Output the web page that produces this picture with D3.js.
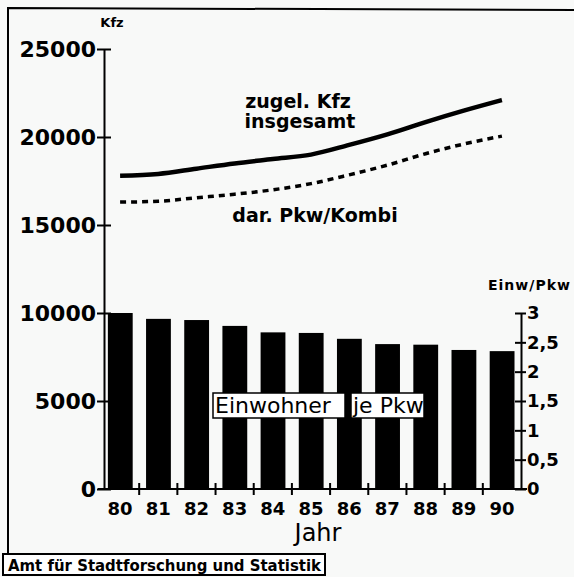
<!DOCTYPE html>
<html>
<head>
<meta charset="utf-8">
<script src="https://cdn.jsdelivr.net/npm/d3@7"></script>
<style>
  body { margin: 0; background: #f8f9f8; }
  svg { display: block; font-family: "DejaVu Sans", sans-serif; }
</style>
</head>
<body>
<script>
// Jahre (Kategorien)
var years = ["80", "81", "82", "83", "84", "85", "86", "87", "88", "89", "90"];
// zugelassene Kfz insgesamt
var kfzTotal = [17800, 17900, 18200, 18500, 18750, 19000, 19550, 20150, 20850, 21500, 22100];
// darunter Pkw/Kombi
var pkwKombi = [16300, 16350, 16550, 16750, 17000, 17350, 17850, 18400, 19050, 19600, 20050];
// Einwohner je Pkw (rechte Achse)
var einwJePkw = [3.0, 2.9, 2.88, 2.78, 2.67, 2.66, 2.56, 2.47, 2.46, 2.37, 2.35];
var leftTicks = [0, 5000, 10000, 15000, 20000, 25000];
var rightTicks = [0, 0.5, 1, 1.5, 2, 2.5, 3];

var width = 574, height = 577;

var svg = d3.select("body").append("svg")
    .attr("width", width)
    .attr("height", height);

svg.append("rect")
    .attr("width", width).attr("height", height)
    .attr("fill", "#f8f9f8");

// scales
var x = d3.scaleBand().domain(years).range([101, 521]).padding(0);
var y = d3.scaleLinear().domain([0, 25000]).range([489, 49]);
var yR = d3.scaleLinear().domain([0, 3]).range([489, 313]);

// frame
svg.append("path")
    .attr("d", "M574,10L8,8L8,555")
    .attr("fill", "none")
    .attr("stroke", "#000")
    .attr("stroke-width", 2);

// bars
svg.append("g").selectAll("rect")
    .data(einwJePkw)
    .enter().append("rect")
    .attr("x", function(d, i) { return x(years[i]) + x.bandwidth() * 0.18; })
    .attr("width", x.bandwidth() * 0.65)
    .attr("y", function(d) { return yR(d); })
    .attr("height", function(d) { return yR(0) - yR(d); })
    .attr("fill", "#000");

// lines
var line = d3.line()
    .curve(d3.curveMonotoneX)
    .x(function(d, i) { return x(years[i]) + x.bandwidth() / 2; })
    .y(function(d) { return y(d); });

svg.append("path")
    .datum(kfzTotal)
    .attr("d", line)
    .attr("fill", "none")
    .attr("stroke", "#000")
    .attr("stroke-width", 4.5);

svg.append("path")
    .datum(pkwKombi)
    .attr("d", line)
    .attr("fill", "none")
    .attr("stroke", "#000")
    .attr("stroke-width", 3.5)
    .attr("stroke-dasharray", "6,5");

// left axis
var gl = svg.append("g")
    .attr("transform", "translate(104,0)")
    .call(d3.axisLeft(y).tickValues(leftTicks).tickSize(7).tickSizeOuter(0).tickPadding(1)
        .tickFormat(d3.format("d")));
gl.selectAll(".tick line").attr("x1", 7).attr("x2", -7);
gl.selectAll("line, path").attr("stroke", "#000").attr("stroke-width", 2);
gl.selectAll("text")
    .attr("font-family", "DejaVu Sans")
    .attr("font-weight", "bold")
    .attr("font-size", 22)
    .attr("fill", "#000");

// right axis
var gr = svg.append("g")
    .attr("transform", "translate(521,0)")
    .call(d3.axisRight(yR).tickValues(rightTicks).tickSize(5).tickSizeOuter(0).tickPadding(1)
        .tickFormat(function(d) { return String(d).replace(".", ","); }));
gr.selectAll(".tick line").attr("x1", -6).attr("x2", 5);
gr.selectAll("line, path").attr("stroke", "#000").attr("stroke-width", 2);
gr.selectAll("text")
    .attr("font-family", "DejaVu Sans")
    .attr("font-weight", "bold")
    .attr("font-size", 18)
    .attr("fill", "#000");

// bottom axis
var gb = svg.append("g")
    .attr("transform", "translate(0,489)")
    .call(d3.axisBottom(x).tickSize(0).tickPadding(13));
gb.select(".domain").attr("d", "M98,0H527");
gb.selectAll("path").attr("stroke", "#000").attr("stroke-width", 2);
gb.selectAll("text")
    .attr("font-family", "DejaVu Sans")
    .attr("font-weight", "bold")
    .attr("font-size", 18)
    .attr("fill", "#000");
gb.selectAll(".sep")
    .data(years.slice(1))
    .enter().append("line")
    .attr("class", "sep")
    .attr("x1", function(d) { return x(d); })
    .attr("x2", function(d) { return x(d); })
    .attr("y1", -6).attr("y2", 6)
    .attr("stroke", "#000").attr("stroke-width", 2);

// axis titles
svg.append("text")
    .attr("x", 112).attr("y", 27)
    .attr("text-anchor", "middle")
    .attr("font-weight", "bold").attr("font-size", 13)
    .text("Kfz");

svg.append("text")
    .attr("x", 488).attr("y", 290)
    .attr("font-weight", "bold").attr("font-size", 14)
    .attr("letter-spacing", 1)
    .text("Einw/Pkw");

svg.append("text")
    .attr("x", 318).attr("y", 541)
    .attr("text-anchor", "middle")
    .attr("font-size", 24)
    .text("Jahr");

// line labels
svg.append("text")
    .attr("x", 298).attr("y", 108)
    .attr("text-anchor", "middle")
    .attr("font-weight", "bold").attr("font-size", 19)
    .text("zugel. Kfz");
svg.append("text")
    .attr("x", 300).attr("y", 128)
    .attr("text-anchor", "middle")
    .attr("font-weight", "bold").attr("font-size", 19)
    .text("insgesamt");
svg.append("text")
    .attr("x", 315).attr("y", 222)
    .attr("text-anchor", "middle")
    .attr("font-weight", "bold").attr("font-size", 19)
    .text("dar. Pkw/Kombi");

// bar label boxes
svg.append("rect")
    .attr("x", 213).attr("y", 393).attr("width", 132).attr("height", 25)
    .attr("fill", "#fff").attr("stroke", "#000").attr("stroke-width", 1.5);
svg.append("rect")
    .attr("x", 351).attr("y", 393).attr("width", 73).attr("height", 25)
    .attr("fill", "#fff").attr("stroke", "#000").attr("stroke-width", 1.5);
svg.append("text")
    .attr("x", 215).attr("y", 413)
    .attr("font-size", 22)
    .text("Einwohner");
svg.append("text")
    .attr("x", 353).attr("y", 413)
    .attr("font-size", 22)
    .text("je Pkw");

// footer
svg.append("rect")
    .attr("x", 3).attr("y", 554).attr("width", 322).attr("height", 21)
    .attr("fill", "#fff").attr("stroke", "#000").attr("stroke-width", 2);
svg.append("text")
    .attr("x", 8).attr("y", 571)
    .attr("font-weight", "bold").attr("font-size", 15)
    .attr("textLength", 313)
    .attr("lengthAdjust", "spacingAndGlyphs")
    .text("Amt für Stadtforschung und Statistik");
</script>
</body>
</html>
